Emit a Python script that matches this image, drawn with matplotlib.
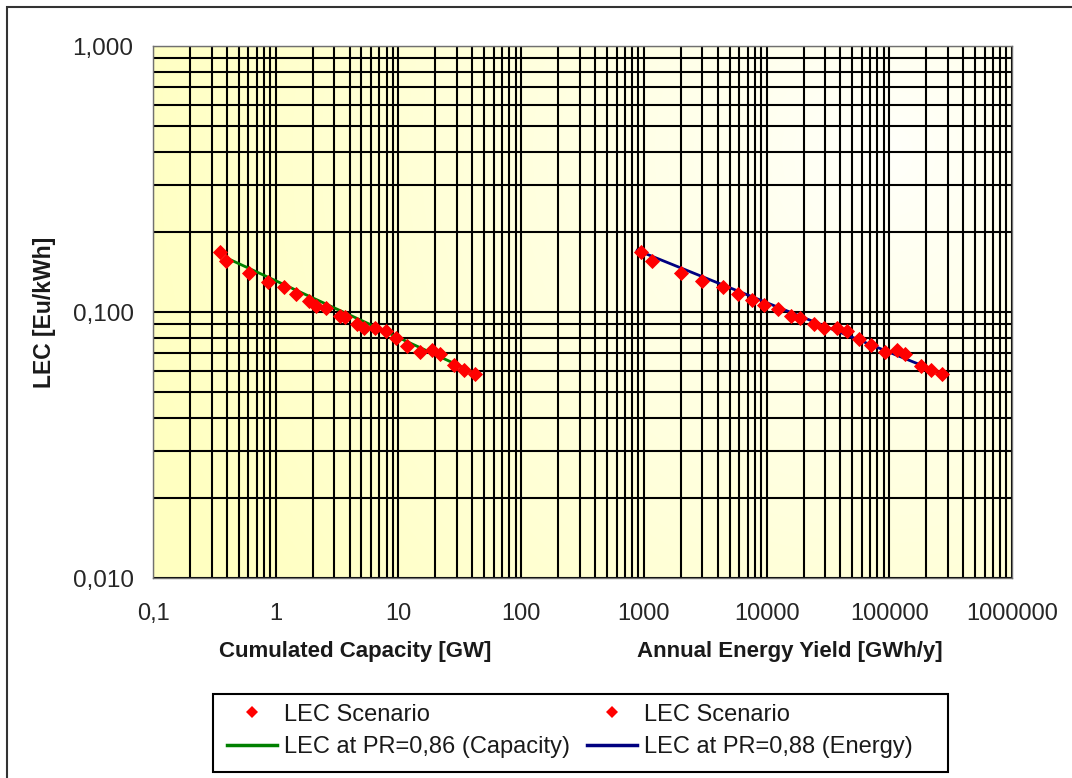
import numpy as np
import matplotlib
matplotlib.use('Agg')
import matplotlib.pyplot as plt
from matplotlib.ticker import FixedLocator, FixedFormatter, LogLocator, NullFormatter
from matplotlib.lines import Line2D
from matplotlib.patches import Rectangle

plt.rcParams['font.family'] = ['Liberation Sans', 'DejaVu Sans']

# ---- data ----
cap_x = [0.35, 0.397, 0.604, 0.863, 1.164, 1.45, 1.86, 2.14, 2.58, 3.33, 3.70, 4.61,
         5.22, 6.50, 7.85, 9.60, 11.8, 14.9, 18.6, 22.0, 28.3, 34.1, 41.7]
cap_y = [0.1676, 0.155, 0.140, 0.1298, 0.1243, 0.1173, 0.1098, 0.1051, 0.1031, 0.0964,
         0.0956, 0.0898, 0.0867, 0.0872, 0.0847, 0.0800, 0.0748, 0.0709, 0.0719, 0.0693,
         0.0630, 0.0605, 0.0583]
en_x = [952, 1170, 2018, 2993, 4436, 5836, 7645, 9510, 12450, 15890, 18670, 24280,
        29290, 37180, 44850, 56520, 71310, 91570, 114600, 134000, 179800, 217100, 266800]
en_y = [0.1676, 0.1551, 0.1403, 0.1305, 0.1243, 0.1173, 0.1107, 0.1058, 0.1028, 0.0964,
        0.0951, 0.0898, 0.0867, 0.0872, 0.0847, 0.0793, 0.0751, 0.0707, 0.0719, 0.0697,
        0.0626, 0.0603, 0.0583]
cap_fit_x = [0.397, 38.7]
cap_fit_y = [0.1597, 0.0600]
en_fit_x = [883, 278600]
en_fit_y = [0.1706, 0.0583]

x_ticks = [0.1, 1, 10, 100, 1000, 10000, 100000, 1000000]
x_tick_labels = ['0,1', '1', '10', '100', '1000', '10000', '100000', '1000000']
y_ticks = [0.01, 0.1, 1]
y_tick_labels = ['0,010', '0,100', '1,000']

legend_labels = ['LEC Scenario', 'LEC at PR=0,86 (Capacity)',
                 'LEC Scenario', 'LEC at PR=0,88 (Energy)']
xlabel_cap = 'Cumulated Capacity [GW]'
xlabel_en = 'Annual Energy Yield [GWh/y]'
ylabel = 'LEC [Eu/kWh]'

# ---- figure ----
W, H = 1072, 778
fig = plt.figure(figsize=(W / 100, H / 100), dpi=100)
fig.patch.set_facecolor('white')

L, R, T, B = 153, 1012, 46, 578
pos = [L / W, 1 - B / H, (R - L) / W, (B - T) / H]

# gradient background
bg = fig.add_axes(pos, zorder=0)
nx, ny = 400, 260
u = np.linspace(0, 1, nx)[None, :]
v = np.linspace(0, 1, ny)[:, None]
aspect = (R - L) / (B - T)
d = np.sqrt(((u - 0.85) * aspect) ** 2 + (v - 0.2) ** 2)
t = np.clip(d / 1.45, 0, 1) ** 0.9
c0 = np.array([1.0, 1.0, 0.985])
c1 = np.array([1.0, 1.0, 0.76])
img = c0[None, None, :] * (1 - t[..., None]) + c1[None, None, :] * t[..., None]
bg.imshow(img, aspect='auto', extent=[0, 1, 0, 1], origin='upper', interpolation='bilinear')
bg.set_axis_off()

ax = fig.add_axes(pos, zorder=1)
ax.patch.set_facecolor('none')
ax.set_xscale('log')
ax.set_yscale('log')
ax.set_xlim(0.1, 1000000)
ax.set_ylim(0.01, 1)

ax.xaxis.set_major_locator(FixedLocator(x_ticks))
ax.xaxis.set_major_formatter(FixedFormatter(x_tick_labels))
ax.xaxis.set_minor_locator(LogLocator(base=10, subs=np.arange(2, 10), numticks=50))
ax.xaxis.set_minor_formatter(NullFormatter())
ax.yaxis.set_major_locator(FixedLocator(y_ticks))
ax.yaxis.set_major_formatter(FixedFormatter(y_tick_labels))
ax.yaxis.set_minor_locator(LogLocator(base=10, subs=np.arange(2, 10), numticks=50))
ax.yaxis.set_minor_formatter(NullFormatter())

ax.grid(True, which='both', color='black', linewidth=1.5)
ax.set_axisbelow(True)
ax.tick_params(which='both', length=0)
ax.tick_params(axis='x', which='major', labelsize=17, pad=18, colors='#262626')
ax.tick_params(axis='y', which='major', labelsize=17.5, pad=14, colors='#262626')
for s in ax.spines.values():
    s.set_color('#707070')
    s.set_linewidth(1.0)

l_cap, = ax.plot(cap_fit_x, cap_fit_y, color='#008000', lw=2.0, zorder=3)
l_en, = ax.plot(en_fit_x, en_fit_y, color='#000080', lw=2.0, zorder=3)
m_cap, = ax.plot(cap_x, cap_y, linestyle='none', marker='D', markersize=7.5,
                 color='#ff0000', markeredgewidth=0.6, markeredgecolor='#ff0000',
                 zorder=4)
m_en, = ax.plot(en_x, en_y, linestyle='none', marker='D', markersize=7.5,
                color='#ff0000', markeredgewidth=0.6, markeredgecolor='#ff0000',
                zorder=4)

# axis labels
fig.text(45 / W, 1 - 312 / H, ylabel, rotation=90, ha='center', va='center',
         fontsize=16.5, fontweight='bold', color='#1a1a1a')
fig.text(355 / W, 1 - 652 / H, xlabel_cap, ha='center', va='center',
         fontsize=16, fontweight='bold', color='#1a1a1a')
fig.text(790 / W, 1 - 652 / H, xlabel_en, ha='center', va='center',
         fontsize=16, fontweight='bold', color='#1a1a1a')

# legend
leg_h = [Line2D([], [], linestyle='none', marker='D', markersize=6.5, color='#ff0000',
                markeredgewidth=0),
         Line2D([], [], color='#008000', lw=2.5),
         Line2D([], [], linestyle='none', marker='D', markersize=6.5, color='#ff0000',
                markeredgewidth=0),
         Line2D([], [], color='#000080', lw=2.5)]
leg = fig.legend(leg_h, legend_labels, ncol=2, loc='center left',
                 bbox_to_anchor=(227 / W, 1 - 731 / H), frameon=False,
                 fontsize=17, handlelength=2.1, handletextpad=0.3,
                 columnspacing=0.75, labelspacing=0.45, borderpad=0, borderaxespad=0)
for txt in leg.get_texts():
    txt.set_color('#1a1a1a')
fig.patches.append(Rectangle((213 / W, 1 - 772 / H), (948 - 213) / W, (772 - 694) / H,
                             transform=fig.transFigure, fill=False, edgecolor='black',
                             linewidth=1.5))
# outer border of the chart object
fig.patches.append(Rectangle((7 / W, -0.05), 1.2, 1 - 7 / H + 0.05,
                             transform=fig.transFigure, fill=False, edgecolor='#333333',
                             linewidth=1.5, clip_on=False))

fig.savefig('out.png', dpi=100)
